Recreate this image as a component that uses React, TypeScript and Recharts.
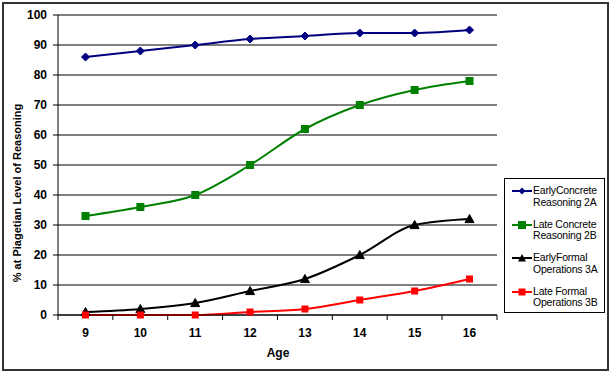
import React from "react";
import {
  LineChart,
  Line,
  XAxis,
  YAxis,
  CartesianGrid,
} from "recharts";

const ages = ["9", "10", "11", "12", "13", "14", "15", "16"];
const earlyConcrete = [86, 88, 90, 92, 93, 94, 94, 95];
const lateConcrete = [33, 36, 40, 50, 62, 70, 75, 78];
const earlyFormal = [1, 2, 4, 8, 12, 20, 30, 32];
const lateFormal = [0, 0, 0, 1, 2, 5, 8, 12];
const yTicks = [0, 10, 20, 30, 40, 50, 60, 70, 80, 90, 100];

const seriesNames = [
  ["EarlyConcrete", "Reasoning 2A"],
  ["Late Concrete", "Reasoning 2B"],
  ["EarlyFormal", "Operations 3A"],
  ["Late Formal", "Operations 3B"],
];
const colors = ["#000080", "#008000", "#000000", "#FF0000"];

const data = ages.map((a, i) => ({
  age: a,
  ec: earlyConcrete[i],
  lc: lateConcrete[i],
  ef: earlyFormal[i],
  lf: lateFormal[i],
}));

const FONT = "'Liberation Sans', Arial, sans-serif";

const Diamond = (props: any) => {
  const { cx, cy, index } = props;
  const s = 4;
  return (
    <path
      key={"d" + index}
      d={`M${cx},${cy - s}L${cx + s},${cy}L${cx},${cy + s}L${cx - s},${cy}Z`}
      fill="#000080"
      stroke="#000080"
    />
  );
};
const Square = (color: string, s: number) => (props: any) => {
  const { cx, cy, index } = props;
  return (
    <rect
      key={"s" + color + index}
      x={cx - s}
      y={cy - s}
      width={2 * s}
      height={2 * s}
      fill={color}
      stroke="none"
    />
  );
};
const Triangle = (props: any) => {
  const { cx, cy, index } = props;
  const s = 4.5;
  return (
    <path
      key={"t" + index}
      d={`M${cx},${cy - s}L${cx + s},${cy + s * 0.8}L${cx - s},${cy + s * 0.8}Z`}
      fill="#000"
      stroke="#000"
    />
  );
};

const BAND = 55;
const XTick = (props: any) => {
  const { x, payload, index } = props;
  const ax = 315;
  return (
    <g>
      <line x1={x - BAND / 2} x2={x - BAND / 2} y1={ax} y2={ax + 5} stroke="#000" />
      {index === ages.length - 1 && (
        <line x1={x + BAND / 2} x2={x + BAND / 2} y1={ax} y2={ax + 5} stroke="#000" />
      )}
      <text
        x={x}
        y={ax + 22}
        textAnchor="middle"
        fontFamily={FONT}
        fontWeight="bold"
        fontSize={12}
        fill="#000"
      >
        {payload.value}
      </text>
    </g>
  );
};

const LegendMarker = ({ i }: { i: number }) => {
  const c = colors[i];
  return (
    <svg width={22} height={10} style={{ display: "block" }}>
      <line x1={1} x2={21} y1={5} y2={5} stroke={c} strokeWidth={2} />
      {i === 0 && <path d="M11,1.5L14.5,5L11,8.5L7.5,5Z" fill={c} />}
      {i === 1 && <rect x={7} y={1} width={8} height={8} fill={c} />}
      {i === 2 && <path d="M11,1L15,8.5L7,8.5Z" fill={c} />}
      {i === 3 && <rect x={7.5} y={1.5} width={7} height={7} fill={c} />}
    </svg>
  );
};

export default function App() {
  return (
    <div
      style={{
        position: "absolute",
        left: 0,
        top: 0,
        width: 611,
        height: 374,
        background: "#fff",
      }}
    >
      <div
        style={{
          position: "absolute",
          left: 2,
          top: 2,
          width: 603,
          height: 365,
          border: "2px solid #333",
        }}
      />
      <LineChart
        width={611}
        height={374}
        data={data}
        margin={{ top: 15, right: 114, bottom: 29, left: 20 }}
      >
        <CartesianGrid vertical={false} stroke="#000" strokeWidth={1} />
        <XAxis
          dataKey="age"
          tick={<XTick />}
          tickLine={false}
          axisLine={{ stroke: "#000" }}
          height={30}
          interval={0}
          padding={{ left: BAND / 2, right: BAND / 2 }}
        />
        <XAxis
          xAxisId="top"
          orientation="top"
          dataKey="age"
          tick={false}
          tickLine={false}
          axisLine={{ stroke: "#888" }}
          height={0}
          padding={{ left: BAND / 2, right: BAND / 2 }}
        />
        <YAxis
          domain={[0, 100]}
          ticks={yTicks}
          interval={0}
          width={38}
          axisLine={{ stroke: "#000" }}
          tickLine={{ stroke: "#000" }}
          tickSize={5}
          tickMargin={6}
          tick={{ fontFamily: FONT, fontWeight: "bold", fontSize: 12, fill: "#000" }}
        />
        <YAxis
          yAxisId="right"
          orientation="right"
          domain={[0, 100]}
          tick={false}
          tickLine={false}
          axisLine={{ stroke: "#888" }}
          width={0}
        />
        <Line
          type="monotone"
          dataKey="ec"
          stroke="#000080"
          strokeWidth={2}
          dot={Diamond}
          isAnimationActive={false}
        />
        <Line
          type="monotone"
          dataKey="lc"
          stroke="#008000"
          strokeWidth={2}
          dot={Square("#008000", 4)}
          isAnimationActive={false}
        />
        <Line
          type="monotone"
          dataKey="ef"
          stroke="#000"
          strokeWidth={2}
          dot={Triangle}
          isAnimationActive={false}
        />
        <Line
          type="monotone"
          dataKey="lf"
          stroke="#FF0000"
          strokeWidth={2}
          dot={Square("#FF0000", 3.5)}
          isAnimationActive={false}
        />
      </LineChart>
      <div
        style={{
          position: "absolute",
          left: 17,
          top: 193,
          transform: "translate(-50%, -50%) rotate(-90deg)",
          whiteSpace: "nowrap",
          fontFamily: FONT,
          fontWeight: "bold",
          fontSize: 11,
          color: "#000",
        }}
      >
        % at Piagetian Level of Reasoning
      </div>
      <div
        style={{
          position: "absolute",
          left: 278,
          top: 353,
          transform: "translate(-50%, -50%)",
          fontFamily: FONT,
          fontWeight: "bold",
          fontSize: 12,
          color: "#000",
        }}
      >
        Age
      </div>
      <div
        style={{
          position: "absolute",
          left: 504,
          top: 178,
          width: 101,
          height: 135,
          border: "1px solid #000",
          background: "#fff",
          boxSizing: "border-box",
        }}
      >
        {seriesNames.map((n, i) => (
          <div
            key={i}
            style={{
              position: "absolute",
              left: 6,
              top: 6 + i * 33.5,
              display: "flex",
              alignItems: "flex-start",
              fontFamily: FONT,
              fontSize: 10.5,
              lineHeight: "11.5px",
              color: "#000",
            }}
          >
            <div style={{ marginTop: 1 }}>
              <LegendMarker i={i} />
            </div>
            <div style={{ whiteSpace: "nowrap", letterSpacing: -0.2 }}>
              {n[0]}
              <br />
              {n[1]}
            </div>
          </div>
        ))}
      </div>
    </div>
  );
}
